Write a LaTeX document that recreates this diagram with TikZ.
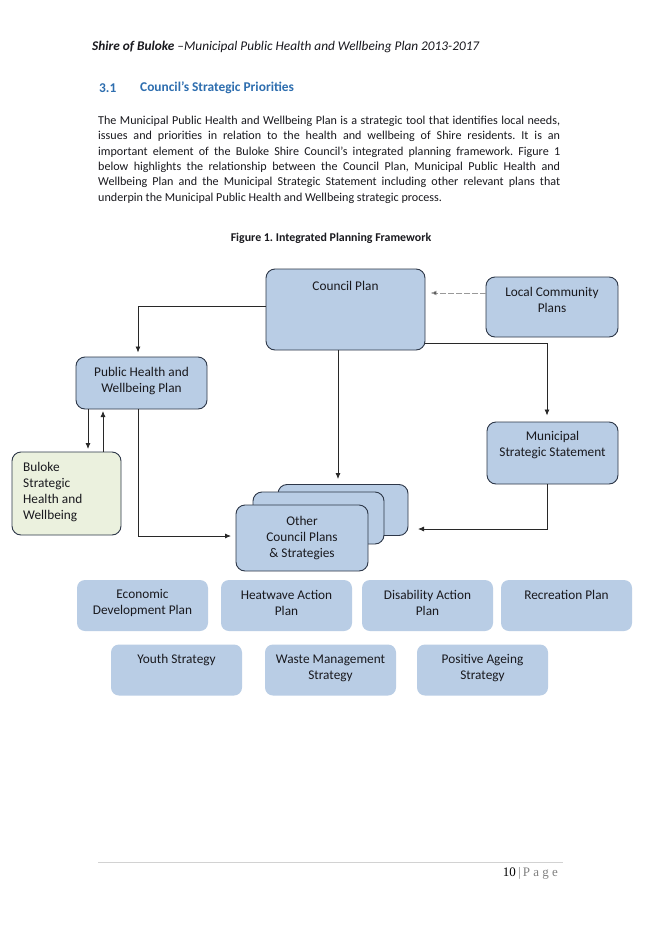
\documentclass[tikz,border=0pt]{standalone}
\usepackage{fontspec}
\setmainfont{Carlito}
\newfontfamily\pagefont{Liberation Serif}
\usetikzlibrary{arrows.meta}
\definecolor{boxfill}{RGB}{185,205,229}
\definecolor{boxline}{RGB}{45,55,72}
\definecolor{greenfill}{RGB}{235,241,222}
\definecolor{headblue}{RGB}{46,110,175}
\definecolor{txtcol}{RGB}{25,25,30}
\definecolor{linecol}{RGB}{40,40,40}
\tikzset{
  box/.style={draw=boxline, fill=boxfill, rounded corners=9pt, line width=0.9pt, inner sep=0pt},
  gbox/.style={draw=boxline, fill=greenfill, rounded corners=9pt, line width=0.9pt, inner sep=0pt},
  flatbox/.style={fill=boxfill, rounded corners=8pt, inner sep=0pt, minimum width=131pt, minimum height=51pt},
  lbl/.style={text=txtcol, font=\fontsize{13.3}{16}\selectfont, align=center, inner sep=0pt},
  conn/.style={draw=linecol, line width=0.8pt},
  arr/.style={conn, -{Latex[length=6pt,width=5pt]}},
}
\frenchspacing
\begin{document}
\begin{tikzpicture}[x=1pt,y=-1pt]
\useasboundingbox (0,0) rectangle (660,934);
\fill[white] (0,0) rectangle (660,934);
% header
\node[anchor=west, inner sep=0pt, text=txtcol, font=\fontsize{13.3}{15}\selectfont] (hdr) at (92,47) {{\bfseries\itshape Shire of Buloke} \itshape–Municipal Public Health and Wellbeing Plan 2013-2017};
% heading
\node[anchor=west, inner sep=0pt, text=headblue, font=\bfseries\fontsize{13.4}{16}\selectfont] (secnum) at (99,88) {3.1};
\node[anchor=west, inner sep=0pt, text=headblue, font=\bfseries\fontsize{13.4}{16}\selectfont] (sectitle) at (140,88) {Council’s Strategic Priorities};
% paragraph
\node[anchor=north west, inner sep=0pt, text width=462pt, align=justify, text=txtcol, font=\fontsize{12.1}{15.3}\selectfont] (para) at (98,116) {The Municipal Public Health and Wellbeing Plan is a strategic tool that identifies local needs,\linebreak issues and priorities in relation to the health and wellbeing of Shire residents. It is an\linebreak important element of the Buloke Shire Council’s integrated planning framework. Figure 1\linebreak below highlights the relationship between the Council Plan, Municipal Public Health and\linebreak Wellbeing Plan and the Municipal Strategic Statement including other relevant plans that\linebreak underpin the Municipal Public Health and Wellbeing strategic process.};
% figure title
\node[inner sep=0pt, text=txtcol, font=\bfseries\fontsize{11.9}{13}\selectfont] (figtitle) at (331,238) {Figure 1. Integrated Planning Framework};

% main boxes
\node[box, minimum width=159pt, minimum height=81pt] (cp) at (345.5,309.5) {};
\node[lbl] (cpt) at (345.5,286) {Council Plan};
\node[box, minimum width=132pt, minimum height=60pt] (lcp) at (552,307) {};
\node[lbl] (lcpt) at (552,300) {Local Community\\Plans};
\node[box, minimum width=131pt, minimum height=52pt] (ph) at (141.5,383) {};
\node[lbl] (pht) at (141.5,381) {Public Health and\\Wellbeing Plan};
\node[box, minimum width=131pt, minimum height=62pt] (mss) at (552.5,453) {};
\node[lbl] (msst) at (552.5,445) {Municipal\\Strategic Statement};
\node[gbox, minimum width=109pt, minimum height=83pt] (bul) at (66.5,493.5) {};
\node[lbl, align=left, anchor=north west] (bult) at (23,462) {Buloke\\Strategic\\Health and\\Wellbeing};
% stacked boxes
\node[box, minimum width=130pt, minimum height=51pt] (back) at (343,510) {};
\node[box, minimum width=131pt, minimum height=52pt] (mid) at (318.5,518) {};
\node[box, minimum width=132pt, minimum height=66pt] (front) at (302,538) {};
\node[lbl] (frontt) at (302,538) {Other\\Council Plans\\\& Strategies};

% bottom boxes
\node[flatbox] (edp) at (142.5,605.5) {};
\node[lbl] (edpt) at (142.5,603) {Economic\\Development Plan};
\node[flatbox] (hap) at (286.5,605.5) {};
\node[lbl] (hapt) at (286.5,603) {Heatwave Action\\Plan};
\node[flatbox] (dap) at (427.5,605.5) {};
\node[lbl] (dapt) at (427.5,603) {Disability Action\\Plan};
\node[flatbox] (rp) at (566.5,605.5) {};
\node[lbl] (rpt) at (566.5,595) {Recreation Plan};
\node[flatbox] (ys) at (176.5,670) {};
\node[lbl] (yst) at (176.5,660) {Youth Strategy};
\node[flatbox] (wms) at (330.5,670) {};
\node[lbl] (wmst) at (330.5,668) {Waste Management\\Strategy};
\node[flatbox] (pas) at (482.5,670) {};
\node[lbl] (past) at (482.5,668) {Positive Ageing\\Strategy};

% connectors
\coordinate (cpL) at (266,306);
\draw[arr, shorten >=4pt] (cpL) -| ([xshift=-3.5pt]ph.north);
\coordinate (cpB) at (338,350);
\draw[arr, shorten >=5pt] (cpB) -- (cpB |- back.north);
\coordinate (cpR) at (425,343);
\coordinate (mssT) at (547,421.5);
\draw[arr, shorten >=6pt] (cpR) -| (mssT);
\coordinate (lcpL) at (486,293);
\draw[draw=gray!80, line width=0.8pt, dash pattern=on 6pt off 2pt, shorten >=5pt, arrows={-Latex[length=6pt,width=5pt,fill=linecol]}] (lcpL) -- (lcpL -| cp.east);
\coordinate (mssB) at (547,484);
\coordinate (backR) at (408,529);
\draw[arr, shorten >=10pt] (mssB) |- (backR);
\coordinate (phB) at (138,409);
\coordinate (frontL) at (236,536);
\draw[arr, shorten >=5pt] (phB) |- (frontL);
\coordinate (phB1) at (88,409);
\coordinate (bulT1) at (88,452);
\draw[arr, shorten >=3pt] (phB1) -- (bulT1);
\coordinate (phB2) at (103,409);
\coordinate (bulT2) at (103,452);
\draw[arr, shorten >=2pt] (bulT2) -- (phB2);

% footer
\coordinate (ruleL) at (98,862);
\coordinate (ruleR) at (563,862);
\draw[draw=gray!35, line width=0.6pt] (ruleL) -- (ruleR);
\node[anchor=east, inner sep=0pt, font=\pagefont\fontsize{13}{15}\selectfont] (pg) at (558,873) {10\,{\color{gray}|\,\addfontfeature{LetterSpace=25}Page}};
\end{tikzpicture}
\end{document}
